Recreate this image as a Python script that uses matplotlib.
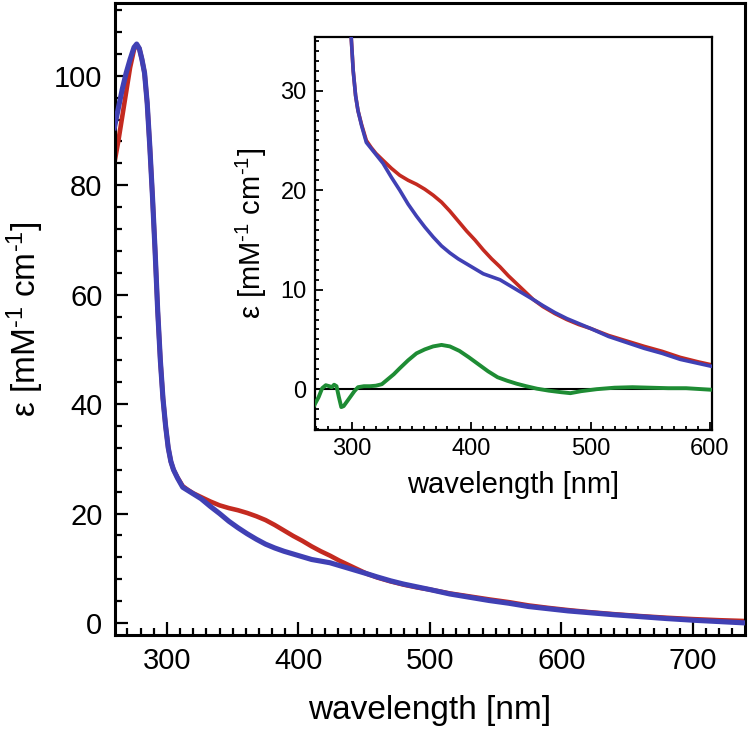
import matplotlib
matplotlib.use('Agg')
import matplotlib.pyplot as plt
from matplotlib.ticker import MultipleLocator

plt.rcParams['font.family'] = ['Liberation Sans', 'DejaVu Sans']
plt.rcParams['mathtext.fontset'] = 'custom'
plt.rcParams['mathtext.rm'] = 'Liberation Sans'
plt.rcParams['mathtext.default'] = 'regular'

# 흡수 스펙트럼 데이터
wl = [260, 263, 266, 269, 272, 275, 277, 279, 281, 283, 285, 287, 289, 291, 293,
      295, 297, 299, 301, 303, 305, 308, 312, 316, 320, 326, 333, 340, 347, 354,
      361, 368, 375, 382, 389, 396, 403, 410, 417, 424, 431, 438, 445, 452, 460,
      470, 480, 490, 500, 515, 530, 545, 560, 575, 590, 605, 620, 640, 660, 680,
      700, 720, 740]
eps_blue = [90.5, 94, 97.5, 100.5, 103, 105.2, 105.8, 105, 103, 100.5, 95, 87, 78, 68, 57,
            48, 41, 36, 32, 29.5, 28, 26.5, 24.8, 24.2, 23.6, 22.7, 21.3, 20.0, 18.6, 17.4,
            16.3, 15.3, 14.4, 13.7, 13.1, 12.6, 12.1, 11.6, 11.3, 11.0, 10.5, 10.0, 9.5, 9.0, 8.4,
            7.7, 7.1, 6.6, 6.1, 5.3, 4.7, 4.1, 3.6, 3.0, 2.6, 2.2, 1.9, 1.5, 1.15, 0.8,
            0.5, 0.25, 0.0]
eps_red = [84, 88, 92.5, 97, 101.5, 104.8, 105.6, 105, 103, 100.5, 95, 87, 78, 68, 57,
           48, 41, 36, 32, 29.5, 28, 26.6, 25.0, 24.3, 23.7, 23.0, 22.2, 21.5, 21.0, 20.6,
           20.1, 19.5, 18.8, 17.9, 16.9, 15.9, 15.0, 14.0, 13.1, 12.3, 11.4, 10.6, 9.8, 9.0, 8.3,
           7.6, 7.0, 6.5, 6.1, 5.4, 4.85, 4.3, 3.8, 3.2, 2.75, 2.35, 2.0, 1.6, 1.25, 0.95,
           0.7, 0.5, 0.35]

# 차이 스펙트럼 (inset 녹색선)
wl_diff = [268, 272, 275, 278, 281, 283, 285, 287, 289, 291, 293, 296, 299, 302, 305,
           310, 315, 320, 325, 330, 335, 340, 347, 354, 361, 368, 375, 382, 390, 398,
           406, 414, 422, 430, 438, 446, 455, 465, 475, 483, 492, 505, 520, 535, 550,
           565, 580, 600]
eps_diff = [-1.7, -0.8, 0.1, 0.4, 0.3, 0.2, 0.45, 0.3, -0.8, -1.8, -1.7, -1.2, -0.7, -0.2, 0.2,
            0.3, 0.3, 0.35, 0.5, 1.0, 1.5, 2.1, 2.9, 3.6, 4.0, 4.3, 4.45, 4.3, 3.85, 3.2,
            2.5, 1.8, 1.2, 0.85, 0.55, 0.3, 0.05, -0.15, -0.3, -0.4, -0.2, 0.0, 0.15, 0.2, 0.15,
            0.1, 0.1, -0.05]

c_red = '#c42a20'
c_blue = '#4040b4'
c_green = '#1e8c34'
ylab = r'ε [mM$^{\text{-}1}$ cm$^{\text{-}1}$]'

fig = plt.figure(figsize=(7.49, 7.34), dpi=100)

# 메인 그래프
ax = fig.add_axes([0.1535, 0.1349, 0.8411, 0.8610])
ax.plot(wl, eps_red, color=c_red, lw=3.3, zorder=2)
ax.plot(wl, eps_blue, color=c_blue, lw=3.7, zorder=3)
ax.set_xlim(260.5, 739.5)
ax.set_ylim(-2.2, 113.3)
ax.xaxis.set_major_locator(MultipleLocator(100))
ax.xaxis.set_minor_locator(MultipleLocator(10))
ax.yaxis.set_major_locator(MultipleLocator(20))
ax.yaxis.set_minor_locator(MultipleLocator(4))
ax.tick_params(which='both', direction='in', top=False, right=False, width=1.6)
ax.tick_params(which='major', length=9.5, labelsize=21, pad=9)
ax.tick_params(which='minor', length=5)
for s in ax.spines.values():
    s.set_linewidth(2.2)
ax.set_xlabel('wavelength [nm]', fontsize=24, labelpad=14)
ax.set_ylabel(ylab, fontsize=24, labelpad=6)

# inset 그래프
ins = fig.add_axes([0.4206, 0.4142, 0.5300, 0.5354])
ins.axhline(0, color='black', lw=1.5, zorder=1)
ins.plot(wl, eps_red, color=c_red, lw=2.6, zorder=2)
ins.plot(wl, eps_blue, color=c_blue, lw=2.6, zorder=3)
ins.plot(wl_diff, eps_diff, color=c_green, lw=2.8, zorder=4)
ins.set_xlim(269, 601.7)
ins.set_ylim(-4.1, 35.4)
ins.xaxis.set_major_locator(MultipleLocator(100))
ins.xaxis.set_minor_locator(MultipleLocator(10))
ins.yaxis.set_major_locator(MultipleLocator(10))
ins.yaxis.set_minor_locator(MultipleLocator(1))
ins.tick_params(which='both', direction='in', top=False, right=False, width=1.3)
ins.tick_params(which='major', length=6, labelsize=17, pad=6)
ins.tick_params(which='minor', length=3)
for s in ins.spines.values():
    s.set_linewidth(1.6)
ins.set_xlabel('wavelength [nm]', fontsize=21, labelpad=8)
ins.set_ylabel(ylab, fontsize=21, labelpad=8)

fig.savefig('out.png', dpi=100)
plt.close()
